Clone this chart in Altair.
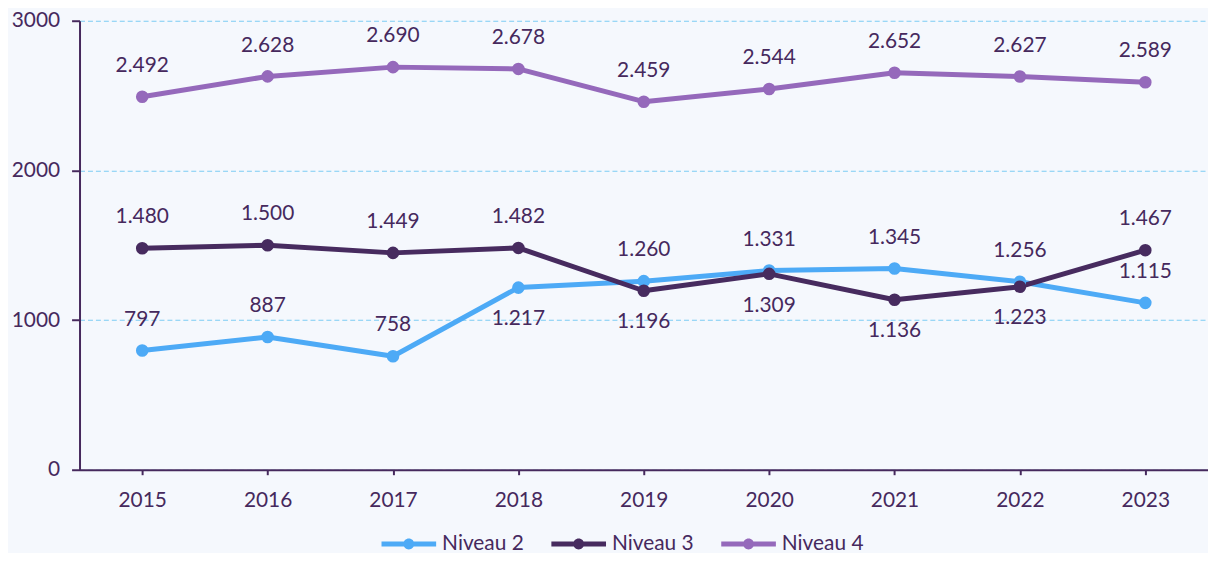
import altair as alt
import pandas as pd

years = [2015, 2016, 2017, 2018, 2019, 2020, 2021, 2022, 2023]
series = ["Niveau 2", "Niveau 3", "Niveau 4"]
niveau2 = [797, 887, 758, 1217, 1260, 1331, 1345, 1256, 1115]
niveau3 = [1480, 1500, 1449, 1482, 1196, 1309, 1136, 1223, 1467]
niveau4 = [2492, 2628, 2690, 2678, 2459, 2544, 2652, 2627, 2589]
# label placement relative to the point
pos2 = ["above", "above", "above", "below", "above", "above", "above", "above", "above"]
pos3 = ["above", "above", "above", "above", "below", "below", "below", "below", "above"]
pos4 = ["above"] * 9
y_ticks = [0, 1000, 2000, 3000]

colors = ["#4daaf6", "#472b5f", "#9569bb"]
TEXT = "#46295d"
FONT = "Lato"
GRID = "#7ccbf3"
BG = "#f5f8fd"

rows = []
for s, vals, poss in zip(series, [niveau2, niveau3, niveau4], [pos2, pos3, pos4]):
    for yr, v, p in zip(years, vals, poss):
        rows.append({"year": str(yr), "series": s, "value": v,
                     "label": f"{v:,}".replace(",", "."), "pos": p})
df = pd.DataFrame(rows)

x_enc = alt.X("year:O", scale=alt.Scale(type="point", padding=0.5),
              axis=alt.Axis(title=None, labelAngle=0, grid=False, tickSize=5,
                            labelPadding=15))
y_enc = alt.Y("value:Q", scale=alt.Scale(domain=[0, 3000], nice=False),
              axis=alt.Axis(title=None, values=y_ticks, format="d", grid=True,
                            gridColor=GRID, gridDash=[5, 3], gridWidth=1.2,
                            tickSize=8, labelPadding=12))
color_scale = alt.Scale(domain=series, range=colors)

sym_path = ("M-2.75,-0.25H2.75V0.25H-2.75Z "
            "M0.55,0A0.55,0.55 0 1,1 -0.55,0A0.55,0.55 0 1,1 0.55,0Z")
legend = alt.Legend(orient="none", legendX=321, legendY=516, direction="horizontal",
                    title=None, symbolType=sym_path, symbolSize=400,
                    symbolStrokeWidth=0, symbolOpacity=1, labelFont=FONT,
                    labelFontSize=21, labelColor=TEXT, labelOffset=23,
                    columnPadding=27)

base = alt.Chart(df)
lines = base.mark_line(strokeWidth=5, strokeJoin="round", strokeCap="round").encode(
    x=x_enc, y=y_enc,
    color=alt.Color("series:N", scale=color_scale, legend=legend))
pts = base.mark_circle(size=160, opacity=1).encode(
    x=x_enc, y=y_enc,
    fill=alt.Fill("series:N", scale=color_scale, legend=legend))

above = base.transform_filter(alt.datum.pos == "above").mark_text(
    dy=-31, font=FONT, fontSize=21, color=TEXT, baseline="middle").encode(
    x=x_enc, y=y_enc, text="label:N")
below = base.transform_filter(alt.datum.pos == "below").mark_text(
    dy=32, font=FONT, fontSize=21, color=TEXT, baseline="middle").encode(
    x=x_enc, y=y_enc, text="label:N")

chart = alt.layer(lines, pts, above, below).properties(
    width=1136, height=452, background=BG,
    padding={"left": 72, "top": 11, "right": 0, "bottom": 82},
    autosize=alt.AutoSizeParams(type="none"),
).configure_view(strokeWidth=0).configure_axis(
    labelFont=FONT, labelFontSize=21, labelColor=TEXT,
    domainColor=TEXT, domainWidth=2, tickColor=TEXT, tickWidth=2,
)

chart.save("out.html", embed_options={"renderer": "svg", "actions": False})
